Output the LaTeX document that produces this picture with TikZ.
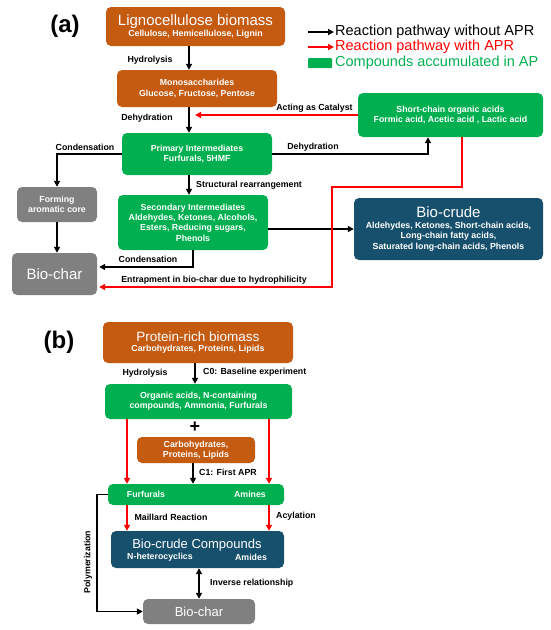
\documentclass[tikz,border=0pt]{standalone}
\usepackage{fontspec}
\setmainfont{Liberation Sans}
\usetikzlibrary{arrows.meta,positioning}
\definecolor{rustc}{HTML}{C55A11}
\definecolor{leafc}{HTML}{00B050}
\definecolor{slatec}{HTML}{808080}
\definecolor{navyc}{HTML}{17506C}
\tikzset{
  box/.style={rounded corners=5pt,text=white,align=center,inner sep=0pt,font=\fontsize{8.8}{10.4}\selectfont\bfseries},
  rustbox/.style={box,fill=rustc},
  leafbox/.style={box,fill=leafc},
  slatebox/.style={box,fill=slatec},
  navybox/.style={box,fill=navyc},
  blk/.style={line width=1.5pt,-{Triangle[length=6pt,width=6pt]}},
  redln/.style={red,line width=1.5pt,-{Triangle[length=6pt,width=6pt]}},
  lbl/.style={font=\fontsize{8.8}{10}\selectfont\bfseries,inner sep=1pt},
  legtxt/.style={anchor=west,inner sep=1pt,font=\fontsize{14.5}{16}\selectfont}
}
\newcommand{\bigtx}[1]{{\fontsize{15}{17}\selectfont\mdseries #1}}
\newcommand{\midtx}[1]{{\fontsize{13.5}{15}\selectfont\mdseries #1}}
\begin{document}
\begin{tikzpicture}[x=1pt,y=-1pt]
\useasboundingbox (0,0) rectangle (550,630);
\node[font=\fontsize{24}{26}\selectfont\bfseries] (tla) at (65,26) {(a)};
\node[font=\fontsize{24}{26}\selectfont\bfseries] (tlb) at (59,342) {(b)};
% legend
\node[legtxt] (leg1) at (334,32) {Reaction pathway without APR};
\node[legtxt,text=red] (leg2) at (334,47) {Reaction pathway with APR};
\node[legtxt,text=leafc] (leg3) at (334,63) {Compounds accumulated in AP};
\coordinate (l1) at (308,32);
\coordinate (l2) at (308,47);
\draw[blk,line width=1.3pt] (l1) -- (leg1.west);
\draw[redln,line width=1.3pt] (l2) -- (leg2.west);
\node[leafbox,rounded corners=1pt,minimum width=24pt,minimum height=10pt] (lg) at (320,63) {};
% (a)
\node[rustbox,minimum width=179pt,minimum height=39pt] (lig) at (195.5,26.5)
  {\bigtx{Lignocellulose biomass}\\Cellulose, Hemicellulose, Lignin};
\node[rustbox,minimum width=160pt,minimum height=37pt] (mono) at (197,88.5)
  {Monosaccharides\\Glucose, Fructose, Pentose};
\node[leafbox,minimum width=150pt,minimum height=42pt] (prim) at (197,154)
  {Primary Intermediates\\Furfurals, 5HMF};
\node[leafbox,minimum width=185pt,minimum height=44pt] (sca) at (450.5,115)
  {Short-chain organic acids\\Formic acid, Acetic acid , Lactic acid};
\node[slatebox,minimum width=80pt,minimum height=35pt] (form) at (57,204.5)
  {Forming\\aromatic core};
\node[leafbox,minimum width=150pt,minimum height=55pt] (sec) at (193,222.5)
  {Secondary Intermediates\\Aldehydes, Ketones, Alcohols,\\Esters, Reducing sugars,\\Phenols};
\node[slatebox,minimum width=85pt,minimum height=42pt] (chara) at (54.5,274)
  {\bigtx{Bio-char}};
\node[navybox,minimum width=189pt,minimum height=62pt] (crude) at (448.5,229)
  {\bigtx{Bio-crude}\\Aldehydes, Ketones, Short-chain acids,\\Long-chain fatty acids,\\Saturated long-chain acids, Phenols};
\coordinate (ax) at (189,0);
\draw[blk] (ax |- lig.south) -- (ax |- mono.north);
\node[lbl] (hyd) at (150,60) {Hydrolysis};
\draw[blk] (ax |- mono.south) -- (ax |- prim.north);
\node[lbl] (dehy1) at (147,118) {Dehydration};
\draw[redln] (sca.west) -- ([xshift=6pt]ax |- sca.west);
\node[lbl,above left=1pt and 4pt of sca.west] (cat) {Acting as Catalyst};
\draw[blk] (prim.west) -| (form.north);
\node[lbl] (cond1) at (85,147) {Condensation};
\draw[blk] (form.south) -- (form.south |- chara.north);
\draw[blk] (ax |- prim.south) -- (ax |- sec.north);
\node[lbl,anchor=west] (str) at (195,185) {Structural rearrangement};
\draw[blk] (prim.east) -| ([xshift=-22.5pt]sca.south);
\node[lbl] (dehy2) at (313,147) {Dehydration};
\draw[blk] (sec.east |- crude.west) -- (crude.west);
\draw[blk] (sec.south) |- ([xshift=2pt,yshift=7pt]chara.east);
\node[lbl] (cond2) at (148,259) {Condensation};
\coordinate (rbend) at (332,187);
\draw[redln] ([xshift=11.5pt]sca.south) |- (rbend) |- ([xshift=2pt,yshift=-13pt]chara.east);
\node[lbl] (ent) at (214,280) {Entrapment in bio-char due to hydrophilicity};
% (b)
\node[rustbox,minimum width=190pt,minimum height=41pt] (prot) at (198,342.5)
  {\midtx{Protein-rich biomass}\\Carbohydrates, Proteins, Lipids};
\node[leafbox,minimum width=187pt,minimum height=35pt] (org) at (198.5,401.5)
  {Organic acids, N-containing\\compounds, Ammonia, Furfurals};
\node[font=\fontsize{18}{18}\selectfont\bfseries,inner sep=0pt] (plus) at (195,427) {+};
\node[rustbox,minimum width=118pt,minimum height=26pt] (carb) at (196,450)
  {Carbohydrates,\\Proteins, Lipids};
\node[leafbox,minimum width=176pt,minimum height=21pt] (fa) at (196,494.5) {};
\node[box] (fur) at (146,494.5) {Furfurals};
\node[box] (ami) at (250,494.5) {Amines};
\node[navybox,minimum width=173pt,minimum height=37pt] (bcc) at (197.5,549.5) {};
\node[box,font=\fontsize{13}{15}\selectfont] (bcct) at (197,545) {Bio-crude Compounds};
\node[box] (nhet) at (160,557.5) {N-heterocyclics};
\node[box] (amid) at (251,557.5) {Amides};
\node[slatebox,minimum width=112pt,minimum height=25pt,font=\fontsize{13}{15}\selectfont] (charb) at (199,611.5)
  {Bio-char};
\draw[blk] ([xshift=-3pt]prot.south) -- ([xshift=-3pt]prot.south |- org.north);
\node[lbl] (hyd2) at (145,373) {Hydrolysis};
\node[lbl,anchor=west] (c0) at (202,372) {C0: Baseline experiment};
\coordinate (rl) at (127,0);
\coordinate (rr) at (269,0);
\draw[redln] (rl |- org.south) -- (rl |- fa.north);
\draw[redln] (rr |- org.south) -- (rr |- fa.north);
\draw[blk] ([xshift=-3pt]carb.south) -- ([xshift=-3pt]carb.south |- fa.north);
\node[lbl,anchor=west] (c1) at (198,472) {C1: First APR};
\draw[redln] (rl |- fa.south) -- (rl |- bcc.north);
\draw[redln] (rr |- fa.south) -- (rr |- bcc.north);
\node[lbl] (mail) at (171,517) {Maillard Reaction};
\node[lbl] (acyl) at (296,516) {Acylation};
\draw[line width=1.5pt,{Triangle[length=6pt,width=6pt]}-{Triangle[length=6pt,width=6pt]}] (charb.north |- bcc.south) -- (charb.north);
\node[lbl,anchor=west] (inv) at (209,583) {Inverse relationship};
\draw[blk] (fa.west) -- ++(-11,0) |- (charb.west);
\node[lbl,rotate=90] (poly) at (88,562) {Polymerization};
\end{tikzpicture}
\end{document}
